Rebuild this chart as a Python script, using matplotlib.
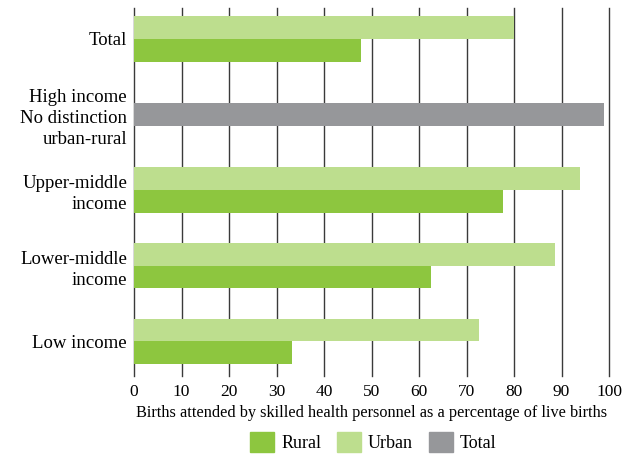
import numpy as np
import matplotlib
matplotlib.use('Agg')
import matplotlib.pyplot as plt
from matplotlib.patches import Patch

# --- Data ---
groups = ['Total', 'High income\nNo distinction\nurban-rural', 'Upper-middle\nincome',
          'Lower-middle\nincome', 'Low income']
rural = [47.7, None, 77.6, 62.5, 33.3]
urban = [80.1, None, 93.9, 88.7, 72.6]
total = [None, 98.9, None, None, None]
x_ticks = [0, 10, 20, 30, 40, 50, 60, 70, 80, 90, 100]
x_label = 'Births attended by skilled health personnel as a percentage of live births'

RURAL_C = '#8DC63F'
URBAN_C = '#BDDE8E'
TOTAL_C = '#96979A'
FONT = 'Liberation Serif'

fig = plt.figure(figsize=(6.34, 4.55), dpi=100)
ax = fig.add_axes([0.2114, 0.1736, 0.7492, 0.8088])

n = len(groups)
ypos = np.arange(n)[::-1]  # Total at top
h = 0.3

for i, y in enumerate(ypos):
    if urban[i] is not None:
        ax.barh(y + h / 2, urban[i], height=h, color=URBAN_C, zorder=3)
    if rural[i] is not None:
        ax.barh(y - h / 2, rural[i], height=h, color=RURAL_C, zorder=3)
    if total[i] is not None:
        ax.barh(y, total[i], height=h, color=TOTAL_C, zorder=3)

ax.set_xlim(0, 100)
ax.set_ylim(-0.46, 4.41)
ax.set_xticks(x_ticks)
ax.set_xticklabels([str(t) for t in x_ticks], fontsize=12.5, fontfamily=FONT)
ax.set_yticks(ypos)
ax.set_yticklabels(groups, fontsize=13.5, fontfamily=FONT, linespacing=1.3)
ax.tick_params(axis='y', length=0, pad=5)
ax.tick_params(axis='x', length=0, pad=6)
ax.grid(axis='x', color='#3a3a3a', linewidth=1.0, zorder=0)
for gl in ax.get_xgridlines():
    gl.set_clip_on(False)
for s in ax.spines.values():
    s.set_visible(False)
ax.set_xlabel(x_label, fontsize=11.7, fontfamily=FONT, labelpad=3)

handles = [Patch(color=RURAL_C, label='Rural'),
           Patch(color=URBAN_C, label='Urban'),
           Patch(color=TOTAL_C, label='Total')]
fig.legend(handles=handles, loc='center', bbox_to_anchor=(0.589, 0.028), ncol=3,
           frameon=False, prop={'family': FONT, 'size': 13},
           handlelength=1.3, handleheight=1.3, handletextpad=0.4, columnspacing=0.9)

fig.savefig('out.png', dpi=100)
